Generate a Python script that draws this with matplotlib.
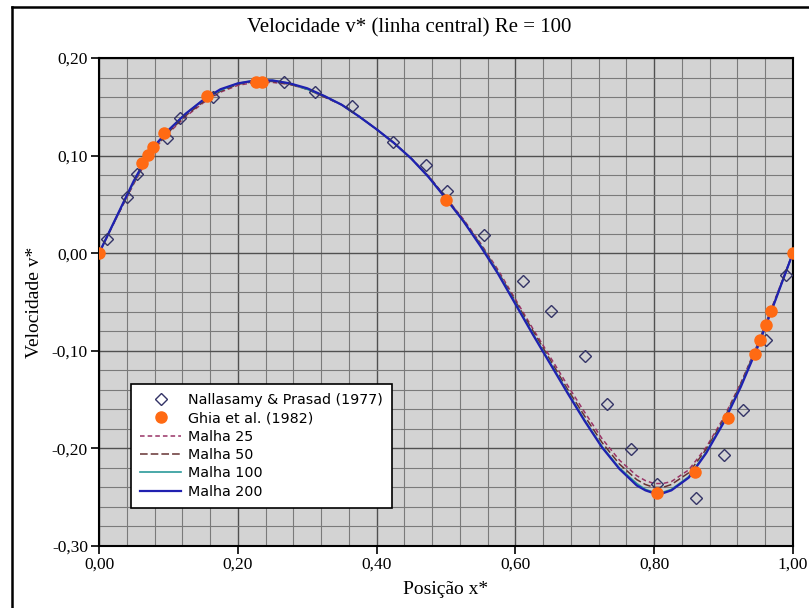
import numpy as np
import matplotlib.pyplot as plt
from matplotlib.lines import Line2D
from matplotlib.ticker import MultipleLocator, FuncFormatter

# Nallasamy & Prasad (1977)
x_nallasamy = [0.011, 0.040, 0.055, 0.098, 0.117, 0.164, 0.267, 0.311, 0.364, 0.424,
               0.471, 0.501, 0.555, 0.611, 0.651, 0.701, 0.732, 0.767, 0.804, 0.860,
               0.901, 0.928, 0.961, 0.990]
v_nallasamy = [0.015, 0.058, 0.081, 0.118, 0.139, 0.160, 0.175, 0.165, 0.151, 0.114,
               0.090, 0.064, 0.019, -0.029, -0.059, -0.105, -0.155, -0.201, -0.237, -0.251,
               -0.207, -0.161, -0.089, -0.022]

# Ghia et al. (1982)
x_ghia = [0.0000, 0.0625, 0.0703, 0.0781, 0.0938, 0.1563, 0.2266, 0.2344, 0.5000,
          0.8047, 0.8594, 0.9063, 0.9453, 0.9531, 0.9609, 0.9688, 1.0000]
v_ghia = [0.00000, 0.09233, 0.10091, 0.10890, 0.12317, 0.16077, 0.17507, 0.17527, 0.05454,
          -0.24533, -0.22445, -0.16914, -0.10313, -0.08864, -0.07391, -0.05906, 0.00000]

# simulacoes (linha central)
x_malha = [0, 0.025, 0.05, 0.075, 0.1, 0.125, 0.15, 0.175, 0.2, 0.225, 0.25, 0.275, 0.3,
           0.325, 0.35, 0.375, 0.4, 0.425, 0.45, 0.475, 0.5, 0.525, 0.55, 0.575, 0.6,
           0.625, 0.65, 0.675, 0.7, 0.725, 0.75, 0.775, 0.7875, 0.8, 0.8125, 0.825,
           0.85, 0.875, 0.9, 0.925, 0.95, 0.975, 1.0]
v_malha25 = [0, 0.036, 0.071, 0.103, 0.123, 0.140, 0.154, 0.165, 0.172, 0.175, 0.175, 0.173,
             0.168, 0.160, 0.152, 0.140, 0.127, 0.113, 0.097, 0.079, 0.057, 0.035, 0.010,
             -0.017, -0.047, -0.077, -0.106, -0.135, -0.163, -0.190, -0.212, -0.228, -0.233,
             -0.236, -0.236, -0.234, -0.222, -0.199, -0.169, -0.133, -0.092, -0.046, 0]
v_malha50 = [0, 0.036, 0.072, 0.104, 0.124, 0.141, 0.155, 0.166, 0.173, 0.176, 0.176, 0.173,
             0.168, 0.160, 0.152, 0.140, 0.127, 0.113, 0.097, 0.079, 0.057, 0.034, 0.009,
             -0.019, -0.049, -0.079, -0.109, -0.139, -0.167, -0.194, -0.216, -0.232, -0.237,
             -0.240, -0.240, -0.237, -0.225, -0.201, -0.171, -0.134, -0.093, -0.047, 0]
v_malha100 = [0, 0.037, 0.073, 0.105, 0.126, 0.143, 0.157, 0.167, 0.174, 0.177, 0.177, 0.174,
              0.168, 0.161, 0.152, 0.140, 0.127, 0.113, 0.097, 0.078, 0.056, 0.033, 0.008,
              -0.020, -0.051, -0.082, -0.112, -0.142, -0.171, -0.198, -0.220, -0.236, -0.242,
              -0.245, -0.245, -0.242, -0.229, -0.204, -0.173, -0.136, -0.094, -0.048, 0]
v_malha200 = [0, 0.037, 0.074, 0.106, 0.126, 0.143, 0.157, 0.168, 0.174, 0.177, 0.177, 0.174,
              0.169, 0.161, 0.152, 0.140, 0.127, 0.113, 0.097, 0.078, 0.056, 0.033, 0.007,
              -0.021, -0.052, -0.083, -0.113, -0.143, -0.172, -0.199, -0.221, -0.238, -0.243,
              -0.246, -0.246, -0.243, -0.230, -0.205, -0.174, -0.137, -0.095, -0.048, 0]

serif = ['Liberation Serif', 'DejaVu Serif']

fig = plt.figure(figsize=(8.09, 6.08), dpi=100)
ax = fig.add_axes([0.1224, 0.102, 0.8576, 0.8026])
ax.set_facecolor('#d3d3d3')

ax.plot(x_malha, v_malha25, color='#993366', lw=1.1, ls=(0, (3, 2)), label='Malha 25', zorder=3)
ax.plot(x_malha, v_malha50, color='#663333', lw=1.1, ls=(0, (5, 2)), label='Malha 50', zorder=3)
ax.plot(x_malha, v_malha100, color='#2a9a9a', lw=1.2, label='Malha 100', zorder=3)
ax.plot(x_malha, v_malha200, color='#2020b0', lw=1.6, label='Malha 200', zorder=4)

ax.plot(x_nallasamy, v_nallasamy, ls='none', marker='D', ms=6.5, mfc='none', mec='#333366',
        mew=1.0, label='Nallasamy & Prasad (1977)', zorder=5)
ax.plot(x_ghia, v_ghia, ls='none', marker='o', ms=8, color='#ff6a13', mec='#ff6a13',
        label='Ghia et al. (1982)', zorder=6)

ax.set_xlim(0, 1)
ax.set_ylim(-0.30, 0.20)
ax.xaxis.set_major_locator(MultipleLocator(0.2))
ax.xaxis.set_minor_locator(MultipleLocator(0.04))
ax.yaxis.set_major_locator(MultipleLocator(0.1))
ax.yaxis.set_minor_locator(MultipleLocator(0.02))
fmt = FuncFormatter(lambda v, p: ('%.2f' % v).replace('.', ',').replace('-0,00', '0,00'))
ax.xaxis.set_major_formatter(fmt)
ax.yaxis.set_major_formatter(fmt)
ax.grid(which='major', color='#505050', lw=1.0, zorder=1)
ax.grid(which='minor', color='#7a7a7a', lw=0.8, zorder=1)
ax.set_axisbelow(True)
ax.tick_params(which='major', direction='out', length=6, width=1.2, pad=2)
ax.tick_params(which='minor', length=0)
for lab in ax.get_xticklabels() + ax.get_yticklabels():
    lab.set_family(serif)
    lab.set_fontsize(12.5)
for s in ax.spines.values():
    s.set_linewidth(1.5)
    s.set_color('black')

fig.text(0.506, 0.954, 'Velocidade v* (linha central) Re = 100', family=serif, fontsize=15,
         ha='center', va='center')
ax.set_xlabel('Posição x*', family=serif, fontsize=14, labelpad=6)
ax.set_ylabel('Velocidade v*', family=serif, fontsize=14, labelpad=6)

handles, labels = ax.get_legend_handles_labels()
order = [4, 5, 0, 1, 2, 3]
leg = ax.legend([handles[i] for i in order], [labels[i] for i in order],
                loc='lower left', bbox_to_anchor=(0.046, 0.078), borderaxespad=0,
                fancybox=False, framealpha=1, edgecolor='black', fontsize=10.3,
                handlelength=2.85, handletextpad=0.5, labelspacing=0.3, borderpad=0.65)
leg.get_frame().set_linewidth(1.2)
leg.set_zorder(10)

# moldura da figura
fig.add_artist(Line2D([0.015, 0.015], [0.0, 0.989], color='black', lw=1.8))
fig.add_artist(Line2D([0.015, 1.0], [0.989, 0.989], color='black', lw=1.8))

fig.savefig('out.png', dpi=100)
